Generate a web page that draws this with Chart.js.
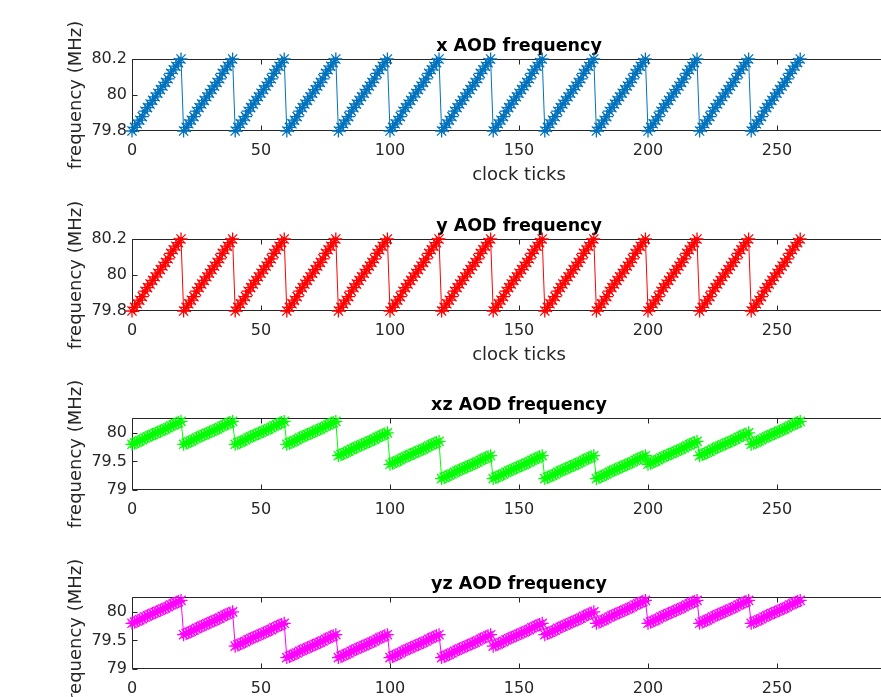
<!DOCTYPE html>
<html>
<head>
<meta charset="utf-8">
<script src="https://cdn.jsdelivr.net/npm/chart.js@4/dist/chart.umd.min.js"></script>
<style>
html,body{margin:0;padding:0;background:#fff;overflow:hidden;}
#wrap{position:relative;width:881px;height:697px;overflow:hidden;background:#fff;}
canvas{position:absolute;left:0;}
</style>
</head>
<body>
<div id="wrap">
  <canvas id="c1" width="906" height="191" style="top:0px"></canvas>
  <canvas id="c2" width="906" height="191" style="top:180px"></canvas>
  <canvas id="c3" width="906" height="191" style="top:359px"></canvas>
  <canvas id="c4" width="906" height="191" style="top:538px"></canvas>
</div>
<script>
// ---------- data ----------
const clockTicks = [
0,1,2,3,4,5,6,7,8,9,10,11,12,13,14,15,16,17,18,19,
20,21,22,23,24,25,26,27,28,29,30,31,32,33,34,35,36,37,38,39,
40,41,42,43,44,45,46,47,48,49,50,51,52,53,54,55,56,57,58,59,
60,61,62,63,64,65,66,67,68,69,70,71,72,73,74,75,76,77,78,79,
80,81,82,83,84,85,86,87,88,89,90,91,92,93,94,95,96,97,98,99,
100,101,102,103,104,105,106,107,108,109,110,111,112,113,114,115,116,117,118,119,
120,121,122,123,124,125,126,127,128,129,130,131,132,133,134,135,136,137,138,139,
140,141,142,143,144,145,146,147,148,149,150,151,152,153,154,155,156,157,158,159,
160,161,162,163,164,165,166,167,168,169,170,171,172,173,174,175,176,177,178,179,
180,181,182,183,184,185,186,187,188,189,190,191,192,193,194,195,196,197,198,199,
200,201,202,203,204,205,206,207,208,209,210,211,212,213,214,215,216,217,218,219,
220,221,222,223,224,225,226,227,228,229,230,231,232,233,234,235,236,237,238,239,
240,241,242,243,244,245,246,247,248,249,250,251,252,253,254,255,256,257,258,259];

const xAOD = [
79.8,79.82,79.84,79.86,79.88,79.91,79.93,79.95,79.97,79.99,80.01,80.03,80.05,80.07,80.09,80.12,80.14,80.16,80.18,80.2,
79.8,79.82,79.84,79.86,79.88,79.91,79.93,79.95,79.97,79.99,80.01,80.03,80.05,80.07,80.09,80.12,80.14,80.16,80.18,80.2,
79.8,79.82,79.84,79.86,79.88,79.91,79.93,79.95,79.97,79.99,80.01,80.03,80.05,80.07,80.09,80.12,80.14,80.16,80.18,80.2,
79.8,79.82,79.84,79.86,79.88,79.91,79.93,79.95,79.97,79.99,80.01,80.03,80.05,80.07,80.09,80.12,80.14,80.16,80.18,80.2,
79.8,79.82,79.84,79.86,79.88,79.91,79.93,79.95,79.97,79.99,80.01,80.03,80.05,80.07,80.09,80.12,80.14,80.16,80.18,80.2,
79.8,79.82,79.84,79.86,79.88,79.91,79.93,79.95,79.97,79.99,80.01,80.03,80.05,80.07,80.09,80.12,80.14,80.16,80.18,80.2,
79.8,79.82,79.84,79.86,79.88,79.91,79.93,79.95,79.97,79.99,80.01,80.03,80.05,80.07,80.09,80.12,80.14,80.16,80.18,80.2,
79.8,79.82,79.84,79.86,79.88,79.91,79.93,79.95,79.97,79.99,80.01,80.03,80.05,80.07,80.09,80.12,80.14,80.16,80.18,80.2,
79.8,79.82,79.84,79.86,79.88,79.91,79.93,79.95,79.97,79.99,80.01,80.03,80.05,80.07,80.09,80.12,80.14,80.16,80.18,80.2,
79.8,79.82,79.84,79.86,79.88,79.91,79.93,79.95,79.97,79.99,80.01,80.03,80.05,80.07,80.09,80.12,80.14,80.16,80.18,80.2,
79.8,79.82,79.84,79.86,79.88,79.91,79.93,79.95,79.97,79.99,80.01,80.03,80.05,80.07,80.09,80.12,80.14,80.16,80.18,80.2,
79.8,79.82,79.84,79.86,79.88,79.91,79.93,79.95,79.97,79.99,80.01,80.03,80.05,80.07,80.09,80.12,80.14,80.16,80.18,80.2,
79.8,79.82,79.84,79.86,79.88,79.91,79.93,79.95,79.97,79.99,80.01,80.03,80.05,80.07,80.09,80.12,80.14,80.16,80.18,80.2];

const yAOD = [
79.8,79.82,79.84,79.86,79.88,79.91,79.93,79.95,79.97,79.99,80.01,80.03,80.05,80.07,80.09,80.12,80.14,80.16,80.18,80.2,
79.8,79.82,79.84,79.86,79.88,79.91,79.93,79.95,79.97,79.99,80.01,80.03,80.05,80.07,80.09,80.12,80.14,80.16,80.18,80.2,
79.8,79.82,79.84,79.86,79.88,79.91,79.93,79.95,79.97,79.99,80.01,80.03,80.05,80.07,80.09,80.12,80.14,80.16,80.18,80.2,
79.8,79.82,79.84,79.86,79.88,79.91,79.93,79.95,79.97,79.99,80.01,80.03,80.05,80.07,80.09,80.12,80.14,80.16,80.18,80.2,
79.8,79.82,79.84,79.86,79.88,79.91,79.93,79.95,79.97,79.99,80.01,80.03,80.05,80.07,80.09,80.12,80.14,80.16,80.18,80.2,
79.8,79.82,79.84,79.86,79.88,79.91,79.93,79.95,79.97,79.99,80.01,80.03,80.05,80.07,80.09,80.12,80.14,80.16,80.18,80.2,
79.8,79.82,79.84,79.86,79.88,79.91,79.93,79.95,79.97,79.99,80.01,80.03,80.05,80.07,80.09,80.12,80.14,80.16,80.18,80.2,
79.8,79.82,79.84,79.86,79.88,79.91,79.93,79.95,79.97,79.99,80.01,80.03,80.05,80.07,80.09,80.12,80.14,80.16,80.18,80.2,
79.8,79.82,79.84,79.86,79.88,79.91,79.93,79.95,79.97,79.99,80.01,80.03,80.05,80.07,80.09,80.12,80.14,80.16,80.18,80.2,
79.8,79.82,79.84,79.86,79.88,79.91,79.93,79.95,79.97,79.99,80.01,80.03,80.05,80.07,80.09,80.12,80.14,80.16,80.18,80.2,
79.8,79.82,79.84,79.86,79.88,79.91,79.93,79.95,79.97,79.99,80.01,80.03,80.05,80.07,80.09,80.12,80.14,80.16,80.18,80.2,
79.8,79.82,79.84,79.86,79.88,79.91,79.93,79.95,79.97,79.99,80.01,80.03,80.05,80.07,80.09,80.12,80.14,80.16,80.18,80.2,
79.8,79.82,79.84,79.86,79.88,79.91,79.93,79.95,79.97,79.99,80.01,80.03,80.05,80.07,80.09,80.12,80.14,80.16,80.18,80.2];

const xzAOD = [
79.8,79.82,79.84,79.86,79.88,79.91,79.93,79.95,79.97,79.99,80.01,80.03,80.05,80.07,80.09,80.12,80.14,80.16,80.18,80.2,
79.8,79.82,79.84,79.86,79.88,79.91,79.93,79.95,79.97,79.99,80.01,80.03,80.05,80.07,80.09,80.12,80.14,80.16,80.18,80.2,
79.8,79.82,79.84,79.86,79.88,79.91,79.93,79.95,79.97,79.99,80.01,80.03,80.05,80.07,80.09,80.12,80.14,80.16,80.18,80.2,
79.8,79.82,79.84,79.86,79.88,79.91,79.93,79.95,79.97,79.99,80.01,80.03,80.05,80.07,80.09,80.12,80.14,80.16,80.18,80.2,
79.6,79.62,79.64,79.66,79.68,79.71,79.73,79.75,79.77,79.79,79.81,79.83,79.85,79.87,79.89,79.92,79.94,79.96,79.98,80,
79.45,79.47,79.49,79.51,79.53,79.56,79.58,79.6,79.62,79.64,79.66,79.68,79.7,79.72,79.74,79.77,79.79,79.81,79.83,79.85,
79.2,79.22,79.24,79.26,79.28,79.31,79.33,79.35,79.37,79.39,79.41,79.43,79.45,79.47,79.49,79.52,79.54,79.56,79.58,79.6,
79.2,79.22,79.24,79.26,79.28,79.31,79.33,79.35,79.37,79.39,79.41,79.43,79.45,79.47,79.49,79.52,79.54,79.56,79.58,79.6,
79.2,79.22,79.24,79.26,79.28,79.31,79.33,79.35,79.37,79.39,79.41,79.43,79.45,79.47,79.49,79.52,79.54,79.56,79.58,79.6,
79.2,79.22,79.24,79.26,79.28,79.31,79.33,79.35,79.37,79.39,79.41,79.43,79.45,79.47,79.49,79.52,79.54,79.56,79.58,79.6,
79.45,79.47,79.49,79.51,79.53,79.56,79.58,79.6,79.62,79.64,79.66,79.68,79.7,79.72,79.74,79.77,79.79,79.81,79.83,79.85,
79.6,79.62,79.64,79.66,79.68,79.71,79.73,79.75,79.77,79.79,79.81,79.83,79.85,79.87,79.89,79.92,79.94,79.96,79.98,80,
79.8,79.82,79.84,79.86,79.88,79.91,79.93,79.95,79.97,79.99,80.01,80.03,80.05,80.07,80.09,80.12,80.14,80.16,80.18,80.2];

const yzAOD = [
79.8,79.82,79.84,79.86,79.88,79.91,79.93,79.95,79.97,79.99,80.01,80.03,80.05,80.07,80.09,80.12,80.14,80.16,80.18,80.2,
79.6,79.62,79.64,79.66,79.68,79.71,79.73,79.75,79.77,79.79,79.81,79.83,79.85,79.87,79.89,79.92,79.94,79.96,79.98,80,
79.4,79.42,79.44,79.46,79.48,79.51,79.53,79.55,79.57,79.59,79.61,79.63,79.65,79.67,79.69,79.72,79.74,79.76,79.78,79.8,
79.2,79.22,79.24,79.26,79.28,79.31,79.33,79.35,79.37,79.39,79.41,79.43,79.45,79.47,79.49,79.52,79.54,79.56,79.58,79.6,
79.2,79.22,79.24,79.26,79.28,79.31,79.33,79.35,79.37,79.39,79.41,79.43,79.45,79.47,79.49,79.52,79.54,79.56,79.58,79.6,
79.2,79.22,79.24,79.26,79.28,79.31,79.33,79.35,79.37,79.39,79.41,79.43,79.45,79.47,79.49,79.52,79.54,79.56,79.58,79.6,
79.2,79.22,79.24,79.26,79.28,79.31,79.33,79.35,79.37,79.39,79.41,79.43,79.45,79.47,79.49,79.52,79.54,79.56,79.58,79.6,
79.4,79.42,79.44,79.46,79.48,79.51,79.53,79.55,79.57,79.59,79.61,79.63,79.65,79.67,79.69,79.72,79.74,79.76,79.78,79.8,
79.6,79.62,79.64,79.66,79.68,79.71,79.73,79.75,79.77,79.79,79.81,79.83,79.85,79.87,79.89,79.92,79.94,79.96,79.98,80,
79.8,79.82,79.84,79.86,79.88,79.91,79.93,79.95,79.97,79.99,80.01,80.03,80.05,80.07,80.09,80.12,80.14,80.16,80.18,80.2,
79.8,79.82,79.84,79.86,79.88,79.91,79.93,79.95,79.97,79.99,80.01,80.03,80.05,80.07,80.09,80.12,80.14,80.16,80.18,80.2,
79.8,79.82,79.84,79.86,79.88,79.91,79.93,79.95,79.97,79.99,80.01,80.03,80.05,80.07,80.09,80.12,80.14,80.16,80.18,80.2,
79.8,79.82,79.84,79.86,79.88,79.91,79.93,79.95,79.97,79.99,80.01,80.03,80.05,80.07,80.09,80.12,80.14,80.16,80.18,80.2];

const xTickValues = [0, 50, 100, 150, 200, 250, 300];
const yTicksXY = [79.8, 80, 80.2];
const yTicksZ = [79, 79.5, 80];
const titles = ['x AOD frequency', 'y AOD frequency', 'xz AOD frequency', 'yz AOD frequency'];
const xLabel = 'clock ticks';
const yLabel = 'frequency (MHz)';

// ---------- drawing ----------
const FONT = "'DejaVu Sans', 'Liberation Sans', sans-serif";
const AX = '#262626';
Chart.defaults.font.family = FONT;

const boxPlugin = {
  id: 'matlabBox',
  beforeDatasetsDraw(chart) {
    const {ctx, chartArea, scales} = chart;
    const L = Math.round(chartArea.left) + 0.5;
    const R = Math.round(chartArea.right) + 0.5;
    const T = Math.round(chartArea.top) + 0.5;
    const B = Math.round(chartArea.bottom) - 0.5;
    ctx.save();
    ctx.strokeStyle = AX;
    ctx.lineWidth = 1;
    ctx.beginPath();
    ctx.moveTo(L, T); ctx.lineTo(R, T);
    ctx.moveTo(L, B); ctx.lineTo(R, B);
    ctx.moveTo(L, T); ctx.lineTo(L, B);
    ctx.moveTo(R, T); ctx.lineTo(R, B);
    const tl = 5;
    scales.x.ticks.forEach(t => {
      const px = Math.round(scales.x.getPixelForValue(t.value)) + 0.5;
      ctx.moveTo(px, B); ctx.lineTo(px, B - tl);
      ctx.moveTo(px, T); ctx.lineTo(px, T + tl);
    });
    scales.y.ticks.forEach(t => {
      const py = Math.round(scales.y.getPixelForValue(t.value)) + 0.5;
      ctx.moveTo(L, py); ctx.lineTo(L + tl, py);
    });
    ctx.stroke();
    ctx.restore();
  }
};

function makePanel(id, title, values, color, yMin, yMax, yTicks, showXLabel) {
  const pts = clockTicks.map((t, i) => ({x: t, y: values[i]}));
  new Chart(document.getElementById(id), {
    type: 'line',
    data: {datasets: [{
      data: pts,
      borderColor: color,
      backgroundColor: color,
      borderWidth: 1,
      pointStyle: 'star',
      pointRadius: 6.5,
      pointHoverRadius: 6.5,
      pointBorderColor: color,
      pointBackgroundColor: color,
      pointBorderWidth: 1.3,
      tension: 0,
      fill: false,
      clip: false
    }]},
    options: {
      responsive: false,
      animation: false,
      events: [],
      layout: {autoPadding: false, padding: {top: 36, left: 0, right: 0, bottom: 0}},
      plugins: {
        legend: {display: false},
        tooltip: {enabled: false},
        title: {
          display: true, text: title, fullSize: false, align: 'center',
          color: '#000',
          font: {family: FONT, size: 17.5, weight: 'bold', lineHeight: 1.2},
          padding: {top: 0, bottom: 2}
        }
      },
      scales: {
        x: {
          type: 'linear', min: 0, max: 300,
          afterBuildTicks: s => { s.ticks = xTickValues.map(v => ({value: v})); },
          afterFit: s => { s.height = 60; s.paddingLeft = 0; s.paddingRight = 0; },
          grid: {display: false, drawTicks: false},
          border: {display: false},
          ticks: {autoSkip: false, maxRotation: 0, minRotation: 0, padding: 10, color: AX,
                  font: {family: FONT, size: 16}, callback: v => String(v)},
          title: {display: showXLabel, text: xLabel, color: AX,
                  font: {family: FONT, size: 18}, padding: {top: 0, bottom: 5}}
        },
        y: {
          type: 'linear', min: yMin, max: yMax,
          afterBuildTicks: s => { s.ticks = yTicks.map(v => ({value: v})); },
          afterFit: s => { s.width = 132; s.paddingTop = 0; s.paddingBottom = 0; },
          grid: {display: false, drawTicks: false},
          border: {display: false},
          ticks: {padding: 5, color: AX, font: {family: FONT, size: 16}, callback: v => String(v)},
          title: {display: true, text: yLabel, color: AX,
                  font: {family: FONT, size: 18}, padding: {top: 66, bottom: 0}}
        }
      }
    },
    plugins: [boxPlugin]
  });
}

makePanel('c1', titles[0], xAOD, '#0072BD', 79.8, 80.2, yTicksXY, true);
makePanel('c2', titles[1], yAOD, '#FF0000', 79.8, 80.2, yTicksXY, true);
makePanel('c3', titles[2], xzAOD, '#00FF00', 79, 80.26, yTicksZ, false);
makePanel('c4', titles[3], yzAOD, '#FF00FF', 79, 80.26, yTicksZ, false);
</script>
</body>
</html>
